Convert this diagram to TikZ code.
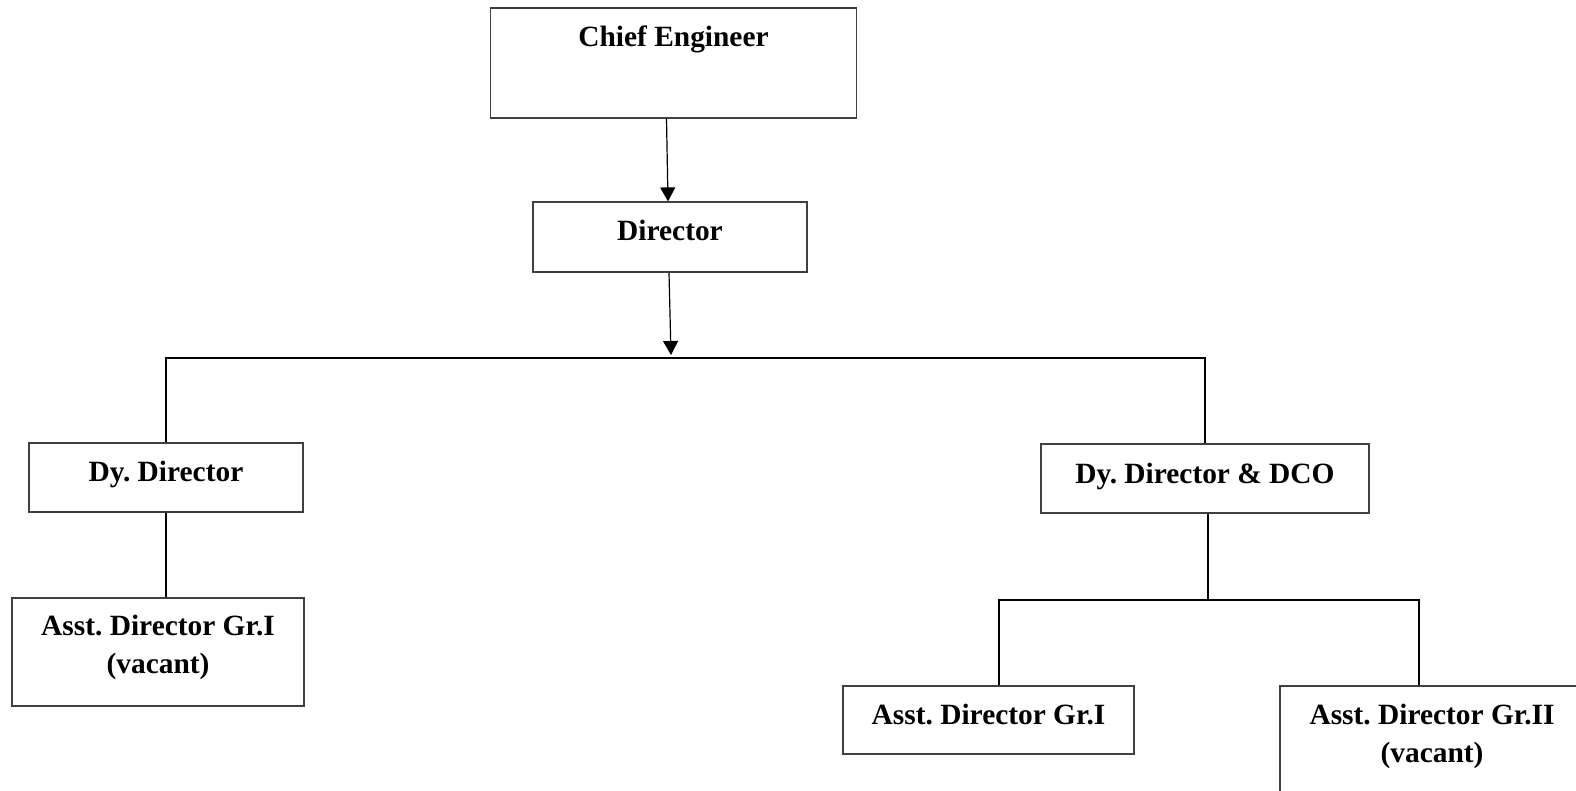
\documentclass[tikz,border=0pt]{standalone}
\usepackage{fontspec}
\setmainfont{Liberation Serif}
\frenchspacing
\usetikzlibrary{arrows.meta}

\begin{document}
\begin{tikzpicture}[x=0.5pt, y=-0.5pt,
  post/.style = {draw=black!75, line width=0.6pt, inner sep=0pt, align=center,
    font=\fontsize{14.7pt}{19pt}\selectfont\bfseries},
  link/.style = {line width=1pt},
  arr/.style = {line width=0.6pt, -{Triangle[length=7pt, width=7.5pt]}}]
\useasboundingbox (0,0) rectangle (1576,791);
\node[post, minimum width=183pt, minimum height=55pt, text height=19.5pt, text depth=35.5pt] (ce) at (673.5,63) {Chief Engineer};
\node[post, minimum width=137pt, minimum height=35pt, text height=19.5pt, text depth=15.5pt] (dir) at (670,237) {Director};
\node[post, minimum width=137pt, minimum height=34.5pt, text height=19pt, text depth=15.5pt] (dd) at (166,477.5) {Dy. Director};
\node[post, minimum width=164pt, minimum height=34.5pt, text height=20pt, text depth=14.5pt] (ddco) at (1205,478.5) {Dy. Director \& DCO};
\node[post, minimum width=146pt, minimum height=54pt, text height=37.5pt, text depth=16.5pt] (adv) at (158,652) {Asst. Director Gr.I\\(vacant)};
\node[post, minimum width=145.5pt, minimum height=34pt, text height=19pt, text depth=15pt] (ad1) at (988.5,720) {Asst. Director Gr.I};
\node[post, minimum width=152pt, minimum height=59pt, text height=38pt, text depth=21pt] (ad2) at (1432,745) {Asst. Director Gr.II\\(vacant)};
\coordinate (tip) at (671,355);
\coordinate (bus) at (670,358);
\coordinate (bus2) at (1208,600);
% arrows down from the top
\draw[arr] ([xshift=-3.5pt]ce.south) -- ([xshift=-1pt]dir.north);
\draw[arr] ([xshift=-0.5pt]dir.south) -- (tip);
% branches
\draw[link] (dd.north) |- (bus) -| (ddco.north);
\draw[link] (dd.south) -- (dd.south |- adv.north);
\draw[link] ([xshift=1.5pt]ddco.south) -- (bus2);
\draw[link] ([xshift=5pt]ad1.north) |- (bus2) -| ([xshift=-6.5pt]ad2.north);
\end{tikzpicture}
\end{document}
